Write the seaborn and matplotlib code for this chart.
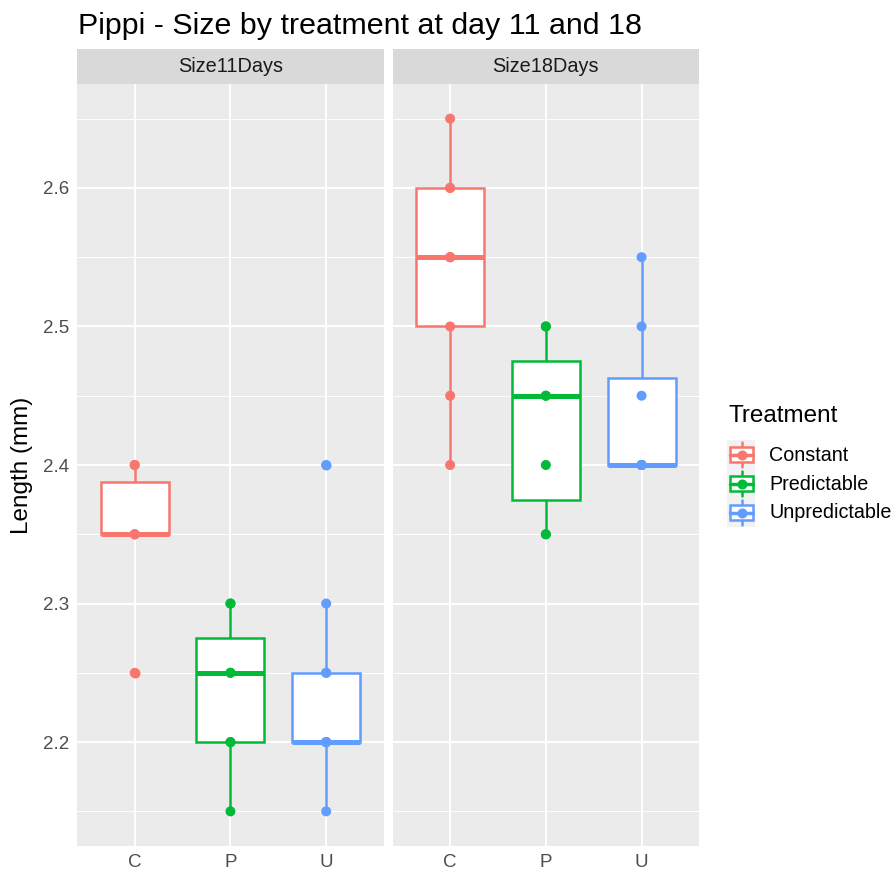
import matplotlib
matplotlib.use("Agg")
import matplotlib.pyplot as plt
from matplotlib.patches import Rectangle
from matplotlib.lines import Line2D
import seaborn as sns
import pandas as pd

# ---- data ----
treatments = ["C", "P", "U"]
treatment_names = ["Constant", "Predictable", "Unpredictable"]
panels = ["Size11Days", "Size18Days"]
size11_C = [2.25, 2.35, 2.35, 2.35, 2.40, 2.40]
size11_P = [2.15, 2.20, 2.20, 2.25, 2.25, 2.30, 2.30]
size11_U = [2.15, 2.20, 2.20, 2.20, 2.20, 2.25, 2.25, 2.30, 2.40]
size18_C = [2.40, 2.45, 2.50, 2.55, 2.55, 2.55, 2.60, 2.60, 2.65]
size18_P = [2.35, 2.35, 2.40, 2.45, 2.45, 2.50, 2.50]
size18_U = [2.40, 2.40, 2.40, 2.40, 2.40, 2.45, 2.50, 2.55]
y_ticks = [2.2, 2.3, 2.4, 2.5, 2.6]
y_minor = [2.15, 2.25, 2.35, 2.45, 2.55, 2.65]

colors = ["#F8766D", "#00BA38", "#619CFF"]
pal = dict(zip(treatments, colors))

rows = []
for panel, groups in zip(panels, [[size11_C, size11_P, size11_U],
                                  [size18_C, size18_P, size18_U]]):
    for t, vals in zip(treatments, groups):
        for v in vals:
            rows.append({"Day": panel, "Treatment": t, "Length": v})
df = pd.DataFrame(rows)

sns.set_theme(style="white")
plt.rcParams["font.family"] = ["Liberation Sans", "DejaVu Sans"]

W, H = 896, 873
fig = plt.figure(figsize=(W / 100, H / 100), dpi=100)

panel_lefts = [77.3, 392.7]
panel_w = 306.3
top_px, bot_px = 84, 846
strip_top = 49

PANEL_BG = "#EBEBEB"
axes = []
for i, (panel, lp) in enumerate(zip(panels, panel_lefts)):
    ax = fig.add_axes([lp / W, 1 - bot_px / H, panel_w / W, (bot_px - top_px) / H])
    axes.append(ax)
    d = df[df["Day"] == panel]
    sns.boxplot(data=d, x="Treatment", y="Length", hue="Treatment",
                order=treatments, hue_order=treatments, palette=pal,
                dodge=False, width=0.71, saturation=1, fill=True,
                linewidth=1.8, showcaps=False, legend=False, ax=ax,
                flierprops=dict(marker="o", markersize=7.2))
    # ggplot-style recolouring: white box, coloured outline
    for cont in ax.containers:
        try:
            box = cont.boxes[0]
        except Exception:
            continue
        col = box.get_facecolor()
        for b in cont.boxes:
            b.set_facecolor("white")
            b.set_edgecolor(col)
            b.set_linewidth(1.8)
            b.set_zorder(2)
        for w_ in cont.whiskers:
            w_.set_color(col)
            w_.set_linewidth(1.8)
            w_.set_zorder(1.5)
        for m in cont.medians:
            m.set_color(col)
            m.set_linewidth(3.6)
            m.set_solid_capstyle("butt")
            m.set_zorder(2.5)
        for f in cont.fliers:
            f.set_markerfacecolor(col)
            f.set_markeredgecolor(col)
            f.set_markeredgewidth(0)
            f.set_zorder(3)
    sns.stripplot(data=d, x="Treatment", y="Length", hue="Treatment",
                  order=treatments, hue_order=treatments, palette=pal,
                  jitter=False, dodge=False, size=7.2, linewidth=0,
                  legend=False, ax=ax, zorder=4)

    ax.set_facecolor(PANEL_BG)
    ax.set_xlim(-0.6, 2.6)
    ax.set_ylim(2.125, 2.675)
    ax.set_yticks(y_ticks)
    ax.set_yticks(y_minor, minor=True)
    ax.grid(True, which="major", color="white", linewidth=1.4, zorder=0)
    ax.grid(True, which="minor", axis="y", color="white", linewidth=0.7, zorder=0)
    ax.set_axisbelow(True)
    for s in ax.spines.values():
        s.set_visible(False)
    ax.set_xlabel("")
    ax.set_ylabel("")
    ax.tick_params(axis="both", which="major", length=3.5, width=1.0,
                   color="#333333", labelcolor="#4D4D4D", labelsize=13.5, pad=2.5)
    ax.tick_params(axis="y", which="minor", length=0)
    if i == 0:
        ax.set_yticklabels([f"{v:.1f}" for v in y_ticks])
    else:
        ax.tick_params(axis="y", which="both", left=False, labelleft=False)

    # facet strip
    sax = fig.add_axes([lp / W, 1 - top_px / H, panel_w / W, (top_px - strip_top) / H])
    sax.set_facecolor("#D9D9D9")
    sax.set_xticks([])
    sax.set_yticks([])
    for s in sax.spines.values():
        s.set_visible(False)
    sax.text(0.5, 0.5, panel, ha="center", va="center", fontsize=14.3,
             color="#1A1A1A", transform=sax.transAxes)

fig.text(78 / W, 1 - 26 / H, "Pippi - Size by treatment at day 11 and 18",
         ha="left", va="center", fontsize=21.9, color="black")
fig.text(22 / W, 1 - 465 / H, "Length (mm)", rotation=90, ha="center",
         va="center", fontsize=17.5, color="black")

# ---- legend ----
fig.text(728 / W, 1 - 416 / H, "Treatment", ha="left", va="center",
         fontsize=17.5, color="black")
kx0, kx1 = 727, 755
ky0, ky1 = 440, 527
lax = fig.add_axes([kx0 / W, 1 - ky1 / H, (kx1 - kx0) / W, (ky1 - ky0) / H])
lax.set_xlim(kx0, kx1)
lax.set_ylim(ky1, ky0)
lax.set_facecolor("#F2F2F2")
lax.set_xticks([])
lax.set_yticks([])
for s in lax.spines.values():
    s.set_visible(False)
row_y = [455, 484, 513]
cx = 741.5
for yc, col, name in zip(row_y, colors, treatment_names):
    lax.add_line(Line2D([cx, cx], [yc - 12.5, yc + 12.5], color=col, lw=1.8))
    lax.add_patch(Rectangle((cx - 11.5, yc - 7.5), 23, 15, facecolor="white",
                            edgecolor=col, lw=1.8, zorder=3))
    lax.add_line(Line2D([cx - 11.5, cx + 11.5], [yc, yc], color=col, lw=2.5, zorder=4))
    lax.scatter([cx], [yc], s=52, color=col, zorder=5, linewidths=0)
    fig.text(769 / W, 1 - yc / H, name, ha="left", va="center",
             fontsize=14.2, color="black")

fig.savefig("out.png", dpi=100)
